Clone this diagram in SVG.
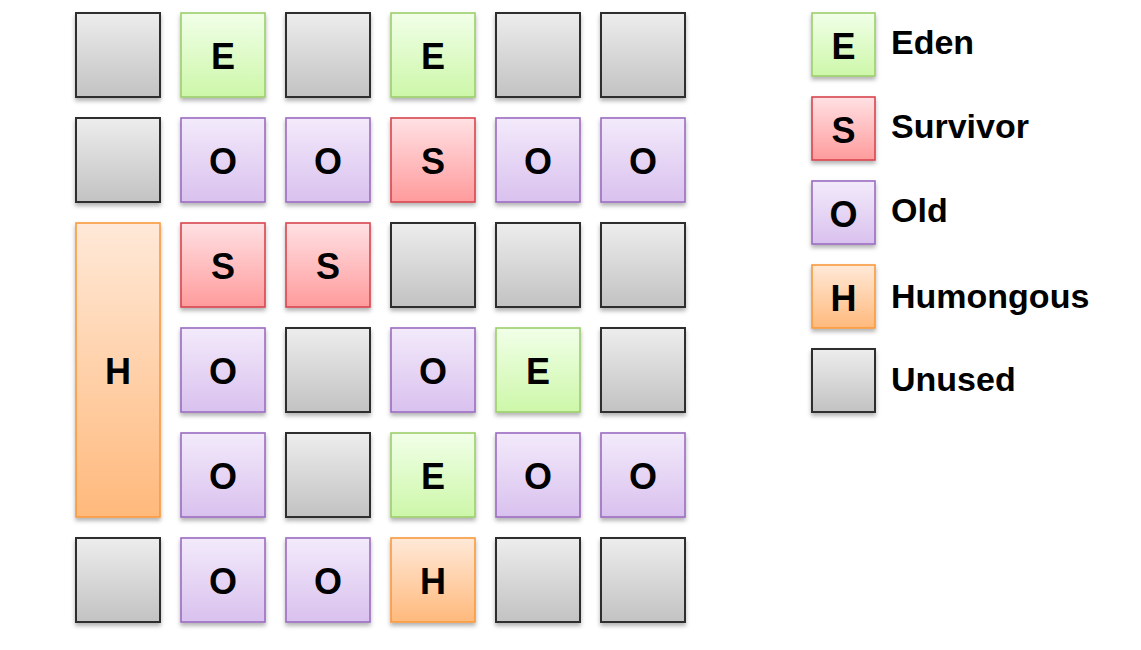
<svg xmlns="http://www.w3.org/2000/svg" width="1141" height="650" viewBox="0 0 1141 650">
<defs>
<linearGradient id="gU" x1="0" y1="0" x2="0" y2="1"><stop offset="0" stop-color="#ededed"/><stop offset="1" stop-color="#c2c2c2"/></linearGradient>
<linearGradient id="gE" x1="0" y1="0" x2="0" y2="1"><stop offset="0" stop-color="#f1ffe8"/><stop offset="1" stop-color="#cdf7a9"/></linearGradient>
<linearGradient id="gS" x1="0" y1="0" x2="0" y2="1"><stop offset="0" stop-color="#ffe1e4"/><stop offset="1" stop-color="#ff9b9c"/></linearGradient>
<linearGradient id="gO" x1="0" y1="0" x2="0" y2="1"><stop offset="0" stop-color="#f3eafb"/><stop offset="1" stop-color="#d9c1ee"/></linearGradient>
<linearGradient id="gH" x1="0" y1="0" x2="0" y2="1"><stop offset="0" stop-color="#ffe9d8"/><stop offset="1" stop-color="#ffb97c"/></linearGradient>
<filter id="sh" x="-10%" y="-10%" width="125%" height="125%"><feDropShadow dx="0" dy="3" stdDeviation="2" flood-color="#000" flood-opacity="0.3"/></filter>
</defs>
<style>
rect{stroke-width:1.6;filter:url(#sh)}
.U{fill:url(#gU);stroke:#2e2e2e;stroke-width:2}
.E{fill:url(#gE);stroke:#9ccf6c}
.S{fill:url(#gS);stroke:#d8464f}
.O{fill:url(#gO);stroke:#9b6cc1}
.H{fill:url(#gH);stroke:#f99a3e}
text{font-family:"Liberation Sans",Arial,sans-serif;font-weight:bold;fill:#000}
.l{font-size:36px;text-anchor:middle}
.t{font-size:34px}
</style>
<g id="grid">
<g id="r0c0"><rect class="U" x="76" y="13" width="84" height="84"/></g>
<g id="r0c1"><rect class="E" x="181" y="13" width="84" height="84"/><text class="l" x="223" y="69">E</text></g>
<g id="r0c2"><rect class="U" x="286" y="13" width="84" height="84"/></g>
<g id="r0c3"><rect class="E" x="391" y="13" width="84" height="84"/><text class="l" x="433" y="69">E</text></g>
<g id="r0c4"><rect class="U" x="496" y="13" width="84" height="84"/></g>
<g id="r0c5"><rect class="U" x="601" y="13" width="84" height="84"/></g>

<g id="r1c0"><rect class="U" x="76" y="118" width="84" height="84"/></g>
<g id="r1c1"><rect class="O" x="181" y="118" width="84" height="84"/><text class="l" x="223" y="174">O</text></g>
<g id="r1c2"><rect class="O" x="286" y="118" width="84" height="84"/><text class="l" x="328" y="174">O</text></g>
<g id="r1c3"><rect class="S" x="391" y="118" width="84" height="84"/><text class="l" x="433" y="174">S</text></g>
<g id="r1c4"><rect class="O" x="496" y="118" width="84" height="84"/><text class="l" x="538" y="174">O</text></g>
<g id="r1c5"><rect class="O" x="601" y="118" width="84" height="84"/><text class="l" x="643" y="174">O</text></g>

<g id="r2c0"><rect class="H" x="76" y="223" width="84" height="294"/><text class="l" x="118" y="384">H</text></g>
<g id="r2c1"><rect class="S" x="181" y="223" width="84" height="84"/><text class="l" x="223" y="279">S</text></g>
<g id="r2c2"><rect class="S" x="286" y="223" width="84" height="84"/><text class="l" x="328" y="279">S</text></g>
<g id="r2c3"><rect class="U" x="391" y="223" width="84" height="84"/></g>
<g id="r2c4"><rect class="U" x="496" y="223" width="84" height="84"/></g>
<g id="r2c5"><rect class="U" x="601" y="223" width="84" height="84"/></g>

<g id="r3c1"><rect class="O" x="181" y="328" width="84" height="84"/><text class="l" x="223" y="384">O</text></g>
<g id="r3c2"><rect class="U" x="286" y="328" width="84" height="84"/></g>
<g id="r3c3"><rect class="O" x="391" y="328" width="84" height="84"/><text class="l" x="433" y="384">O</text></g>
<g id="r3c4"><rect class="E" x="496" y="328" width="84" height="84"/><text class="l" x="538" y="384">E</text></g>
<g id="r3c5"><rect class="U" x="601" y="328" width="84" height="84"/></g>

<g id="r4c1"><rect class="O" x="181" y="433" width="84" height="84"/><text class="l" x="223" y="489">O</text></g>
<g id="r4c2"><rect class="U" x="286" y="433" width="84" height="84"/></g>
<g id="r4c3"><rect class="E" x="391" y="433" width="84" height="84"/><text class="l" x="433" y="489">E</text></g>
<g id="r4c4"><rect class="O" x="496" y="433" width="84" height="84"/><text class="l" x="538" y="489">O</text></g>
<g id="r4c5"><rect class="O" x="601" y="433" width="84" height="84"/><text class="l" x="643" y="489">O</text></g>

<g id="r5c0"><rect class="U" x="76" y="538" width="84" height="84"/></g>
<g id="r5c1"><rect class="O" x="181" y="538" width="84" height="84"/><text class="l" x="223" y="594">O</text></g>
<g id="r5c2"><rect class="O" x="286" y="538" width="84" height="84"/><text class="l" x="328" y="594">O</text></g>
<g id="r5c3"><rect class="H" x="391" y="538" width="84" height="84"/><text class="l" x="433" y="594">H</text></g>
<g id="r5c4"><rect class="U" x="496" y="538" width="84" height="84"/></g>
<g id="r5c5"><rect class="U" x="601" y="538" width="84" height="84"/></g>
</g>
<g id="legend">
<g id="lgE"><rect class="E" x="812" y="13" width="63" height="63"/><text class="l" x="843.5" y="59">E</text><text class="t" x="891" y="54">Eden</text></g>
<g id="lgS"><rect class="S" x="812" y="97" width="63" height="63"/><text class="l" x="843.5" y="143">S</text><text class="t" x="891" y="138">Survivor</text></g>
<g id="lgO"><rect class="O" x="812" y="181" width="63" height="63"/><text class="l" x="843.5" y="227">O</text><text class="t" x="891" y="222">Old</text></g>
<g id="lgH"><rect class="H" x="812" y="265" width="63" height="63"/><text class="l" x="843.5" y="311">H</text><text class="t" x="891" y="308">Humongous</text></g>
<g id="lgU"><rect class="U" x="812" y="349" width="63" height="63"/><text class="t" x="891" y="391">Unused</text></g>
</g>
<g id="connectors"/>
</svg>
